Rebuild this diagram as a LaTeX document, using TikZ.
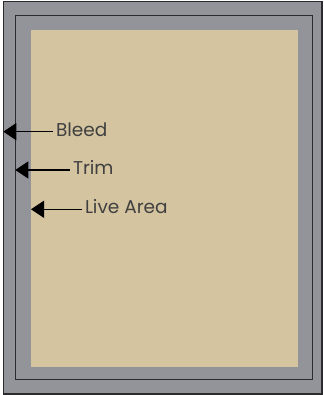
\documentclass[tikz,border=0pt]{standalone}
\usepackage{fontspec}
\setmainfont{Poppins}
\usetikzlibrary{arrows.meta}
\definecolor{bleedgray}{HTML}{939499}
\definecolor{livetan}{HTML}{D4C4A0}
\definecolor{edgedark}{HTML}{2B2B2E}
\definecolor{labelgray}{HTML}{404040}

\tikzset{
    marker/.style={anchor=west, inner sep=3pt, outer sep=0pt, text height=0.9em, text depth=0pt,
        text=labelgray, font=\fontsize{18.5}{21}\selectfont},
    pointer/.style={black, line width=1.3pt, -{Triangle[length=13pt,width=17pt]}}
}

\begin{document}
\begin{tikzpicture}[x=1pt,y=-1pt] % pixel units, y runs down
    \useasboundingbox (0,0) rectangle (323,395);

    % Bleed area with its outer edge
    \filldraw[fill=bleedgray, draw=edgedark, line width=1.6pt] (3.3,1.5) rectangle (322.2,393.8);

    % Trim line
    \draw[edgedark, line width=1pt] (15.3,16) rectangle (312.3,379.7);

    % Live area
    \fill[livetan] (31,30) rectangle (298,366.7);

    % Labels and arrows
    \node[marker] (bleed) at (53,131.7) {Bleed};
    \node[marker] (trim) at (70,170) {Trim};
    \node[marker] (live) at (82,209.3) {Live Area};

    \coordinate (bleedtip) at (3.3,131.7);
    \coordinate (trimtip) at (15.3,170);
    \coordinate (livetip) at (31,209.3);

    \draw[pointer] (bleed.west) -- (bleedtip);
    \draw[pointer] (trim.west) -- (trimtip);
    \draw[pointer] (live.west) -- (livetip);

\end{tikzpicture}
\end{document}
